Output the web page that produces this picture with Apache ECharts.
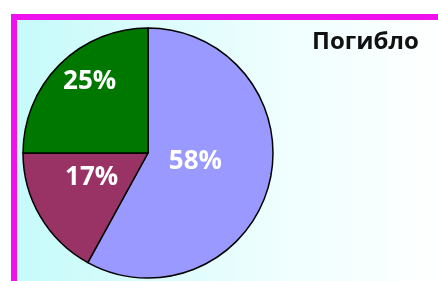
<!DOCTYPE html>
<html>
<head>
<meta charset="utf-8">
<script src="https://cdn.jsdelivr.net/npm/echarts@6/dist/echarts.min.js"></script>
<style>
  html, body { margin: 0; padding: 0; background: #fff; }
  #chart { width: 438px; height: 281px; }
</style>
</head>
<body>
<div id="chart"></div>
<script>
// slices, clockwise from 12 o'clock
const sliceNames = ['A', 'B', 'C']
const sliceValues = [58, 17, 25]
const sliceColors = ['#9999ff', '#993366', '#007800']
const titleText = 'Погибло'

// nudge labels outward a bit like the original (Excel places them further out)
const labelOffsets = [[-16, -8], [0, -9], [-12, -25]]

const chart = echarts.init(document.getElementById('chart'))

chart.setOption({
  backgroundColor: '#ffffff',
  animation: false,
  title: {
    text: titleText,
    left: 307,
    top: 25,
    textStyle: { fontFamily: 'Open Sans', fontWeight: 'bold', fontSize: 24, color: '#111' },
  },
  graphic: [
    { type: 'rect', z: -10, shape: { x: 11, y: 14, width: 440, height: 280 }, style: { fill: '#ee11ee' } },
    {
      type: 'rect', z: -9,
      shape: { x: 17, y: 20, width: 430, height: 270 },
      style: {
        fill: new echarts.graphic.LinearGradient(0, 0, 1, 0, [
          { offset: 0, color: '#c6fafa' },
          { offset: 0.6, color: '#eefefe' },
          { offset: 1, color: '#ffffff' },
        ]),
      },
    },
  ],
  series: [
    {
      type: 'pie',
      center: [148, 153],
      radius: 125,
      startAngle: 90,
      clockwise: true,
      silent: true,
      itemStyle: { borderColor: '#000', borderWidth: 1.5 },
      label: {
        position: 'inside',
        formatter: '{c}%',
        color: '#fff',
        fontFamily: 'Open Sans',
        fontWeight: 'bold',
        fontSize: 26,
      },
      labelLine: { show: false },
      data: sliceValues.map((v, i) => ({
        name: sliceNames[i],
        value: v,
        itemStyle: { color: sliceColors[i] },
        label: { offset: labelOffsets[i] },
      })),
    },
  ],
})
</script>
</body>
</html>
